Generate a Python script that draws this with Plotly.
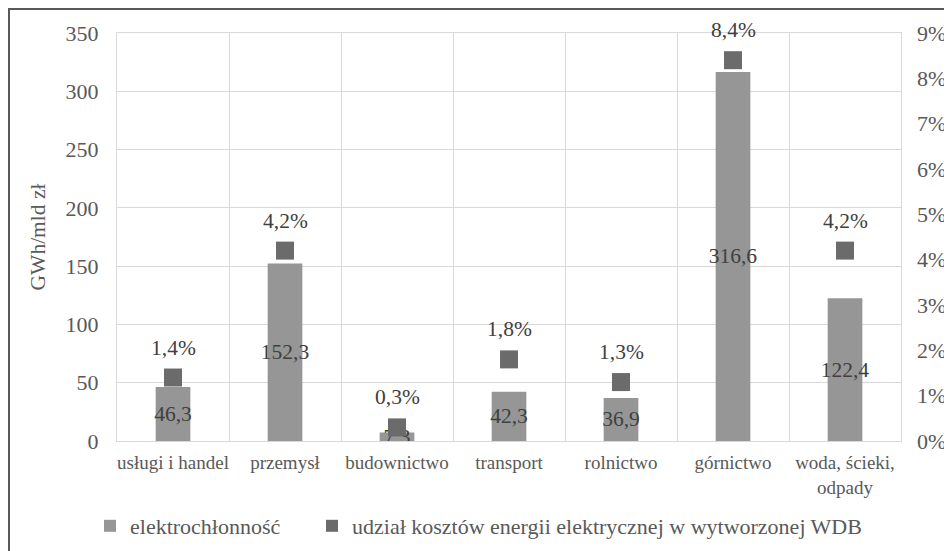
import plotly.graph_objects as go

categories = ["usługi i handel", "przemysł", "budownictwo", "transport",
              "rolnictwo", "górnictwo", "woda, ścieki,<br>odpady"]
elektrochlonnosc = [46.3, 152.3, 7.3, 42.3, 36.9, 316.6, 122.4]
udzial = [1.4, 4.2, 0.3, 1.8, 1.3, 8.4, 4.2]
left_ticks = [0, 50, 100, 150, 200, 250, 300, 350]
right_ticks = [0, 1, 2, 3, 4, 5, 6, 7, 8, 9]
right_ticktext = [f"{v}%" for v in right_ticks]
udzial_labels = [f"{v:.1f}".replace(".", ",") + "%" for v in udzial]

FONT = "Times New Roman"
GRID = "#d9d9d9"
TXT = "#595959"

# page body has an 8px margin, so figure is drawn 8px lower/right
OFF = 8
W, H = 952 - OFF, 551 - OFF
PL, PR, PT, PB = 117, 901, 33, 441          # plot area in screen pixels
ML, MT = PL - OFF, PT - OFF
MR, MB = W - (PR - OFF), H - (PB - OFF)
pw, ph = W - ML - MR, H - MT - MB

def px2paper_x(px):
    return (px - OFF - ML) / pw

def px2paper_y(py):
    return (H - MB - (py - OFF)) / ph

fig = go.Figure()
fig.add_trace(go.Bar(
    x=categories, y=elektrochlonnosc, name="elektrochłonność",
    marker=dict(color="#969696", line=dict(width=0)),
    width=0.31,
    texttemplate="%{y:.1f}", textposition="inside", insidetextanchor="middle",
    constraintext="none", textangle=0,
    insidetextfont=dict(family=FONT, size=21.5, color="#404040"),
    yaxis="y", legend="legend",
))
fig.add_trace(go.Scatter(
    x=categories, y=udzial, name="udział kosztów energii elektrycznej w wytworzonej WDB",
    mode="markers",
    marker=dict(symbol="square", size=18, color="#6b6b6b"),
    cliponaxis=False,
    yaxis="y2", legend="legend2",
))

annotations = [dict(x=c, y=v, xref="x", yref="y2", text=t, showarrow=False,
                    yshift=30, font=dict(family=FONT, size=21.5, color="#404040"))
               for c, v, t in zip(categories, udzial, udzial_labels)]

legend_common = dict(orientation="h", xanchor="left", yanchor="middle",
                     y=px2paper_y(526),
                     font=dict(family=FONT, size=22, color=TXT),
                     itemsizing="constant", bgcolor="rgba(0,0,0,0)")

fig.update_layout(
    width=W, height=H,
    margin=dict(l=ML, r=MR, t=MT, b=MB, autoexpand=False),
    paper_bgcolor="white", plot_bgcolor="white",
    separators=", ",
    font=dict(family=FONT, size=21, color=TXT),
    showlegend=True,
    legend=dict(legend_common, x=px2paper_x(130 - 40)),
    legend2=dict(legend_common, x=px2paper_x(352 - 40)),
    annotations=annotations,
    xaxis=dict(type="category", tickson="boundaries", showgrid=True,
               gridcolor=GRID, gridwidth=1, ticks="", tickangle=0,
               automargin=False, ticklabelstandoff=4,
               showline=True, linecolor=GRID, linewidth=1, mirror=True,
               tickfont=dict(family=FONT, size=19, color=TXT)),
    yaxis=dict(range=[0, 350], tickvals=left_ticks, showgrid=True,
               gridcolor=GRID, gridwidth=1, zeroline=False, ticks="",
               automargin=False, ticklabelstandoff=13,
               showline=True, linecolor=GRID, mirror=True,
               title=dict(text="GWh/mld zł", standoff=14,
                          font=dict(family=FONT, size=21.5, color=TXT)),
               tickfont=dict(family=FONT, size=22, color=TXT)),
    yaxis2=dict(range=[0, 9], tickvals=right_ticks, ticktext=right_ticktext,
                overlaying="y", side="right", showgrid=False, zeroline=False,
                automargin=False, ticklabelstandoff=15,
                ticks="", tickfont=dict(family=FONT, size=22, color=TXT)),
    shapes=[dict(type="rect", xref="paper", yref="paper",
                 x0=px2paper_x(9), x1=px2paper_x(970),
                 y0=px2paper_y(570), y1=px2paper_y(9),
                 line=dict(color="#595959", width=2), fillcolor="rgba(0,0,0,0)",
                 layer="below")],
)

fig.write_html("out.html")
